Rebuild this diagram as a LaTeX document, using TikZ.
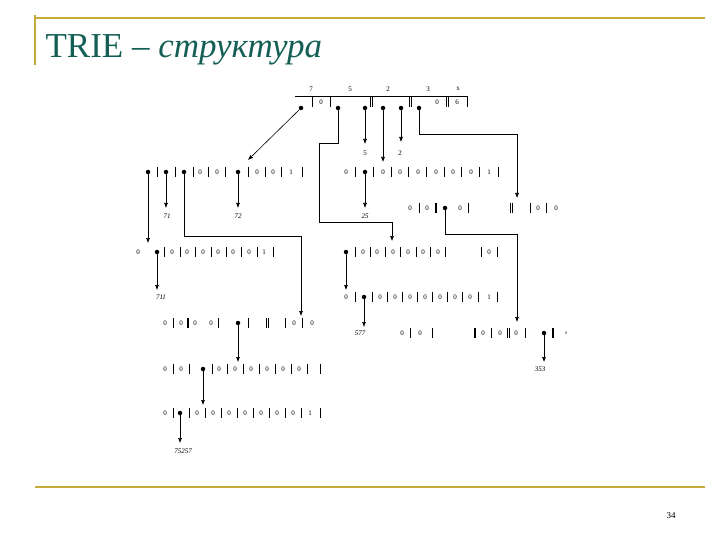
\documentclass[tikz,border=0pt]{standalone}
\usepackage{fontspec}
\setmainfont{Liberation Serif}
\usetikzlibrary{arrows.meta}
\definecolor{tealc}{RGB}{20,95,85}
\definecolor{lineo}{RGB}{200,170,60}
\begin{document}
\begin{tikzpicture}[x=1pt,y=-1pt,
 zc/.style={inner sep=0,font=\fontsize{7}{7}\selectfont},
 zi/.style={inner sep=0,font=\fontsize{7}{7}\selectfont\itshape},
 dot/.style={circle,fill=black,inner sep=0,minimum size=4.5pt},
 arr/.style={-{Latex[length=5pt,width=4pt]},line width=0.6pt},
 bar/.style={line width=0.6pt}]
\useasboundingbox (0,0) rectangle (720,540);
% frame
\draw[lineo,line width=1.2pt] (35,18) -- (705,18);
\draw[lineo,line width=1.2pt] (35,487) -- (705,487);
\draw[lineo,line width=1.2pt] (35,15) -- (35,65);
\node[anchor=west,text=tealc,font=\fontsize{35}{35}\selectfont] (title) at (42,50) {TRIE – \textit{структура}};
\node[font=\fontsize{9}{9}\selectfont] (pg) at (671,516) {34};
% macros
\newcommand{\zeros}[2]{\foreach \x in {#2} \node[zc] at (\x,#1) {0};}
\newcommand{\bars}[2]{\foreach \x in {#2} \draw[bar] (\x,#1-5) -- (\x,#1+5);}
\newcommand{\tbars}[2]{\foreach \x in {#2} \draw[line width=1.6pt] (\x,#1-5) -- (\x,#1+5);}
% top row
\draw[bar] (295,96) -- (468,96);
\foreach \x/\t in {311/7,350/5,388/2,428/3,458/x} \node[zc] at (\x,89) {\t};
\bars{102}{312,330,370,372,409,411,446,448,467}
\zeros{102}{321,437}
\node[zc] at (457,102) {6};
\node[dot] (t1) at (301,108) {};
\node[dot] (t2) at (338,108) {};
\node[dot] (t3) at (365,108) {};
\node[dot] (t4) at (383,108) {};
\node[dot] (t5) at (401,108) {};
\node[dot] (t6) at (419,108) {};
\coordinate (a1) at (248,160);
\draw[arr] (t1) -- (a1);
\draw[arr] (t2) |- (319,143) |- (392,222) -- (392,241);
\draw[arr] (t3) -- (365,144); \node[zc] at (365,153) {5};
\draw[arr] (t4) -- (383,162);
\draw[arr] (t5) -- (401,142); \node[zc] at (400,153) {2};
\draw[arr] (t6) |- (517,134) -- (517,198);
% row2 left y=172
\bars{172}{157,175,193,208,225,248,265,281,302}
\zeros{172}{200,217,257,273}
\node[zc] at (291,172) {1};
\node[dot] (l1) at (148,172) {};
\node[dot] (l2) at (166,172) {};
\node[dot] (l3) at (184,172) {};
\node[dot] (l4) at (238,172) {};
\draw[arr] (l2) -- (166,208); \node[zi] at (167,216) {71};
\draw[arr] (l4) -- (238,208); \node[zi] at (238,216) {72};
\draw[arr] (l1) -- (148,243);
\draw[arr] (l3) |- (301,236) -- (301,316);
% row2 right
\zeros{172}{346,383,400,418,436,453,471}
\bars{172}{355,373,391,408,426,444,461,479,498}
\node[zc] at (489,172) {1};
\node[dot] (r1) at (365,172) {};
\draw[arr] (r1) -- (365,208); \node[zi] at (365,216) {25};
% mid row y=208
\zeros{208}{410,427,460,538,556}
\bars{208}{419,468,510,512,530,546}
\tbars{208}{436}
\node[dot] (m1) at (445,208) {};
\draw[arr] (m1) |- (517,234) -- (517,322);
% row3 left y=252
\zeros{252}{138,172,187,203,218,233,249}
\bars{252}{164,180,195,211,226,241,257,273}
\node[zc] at (264,252) {1};
\node[dot] (q1) at (157,252) {};
\draw[arr] (q1) -- (157,290); \node[zi] at (161,297) {711};
% row3 right
\zeros{252}{363,377,393,408,423,438,489}
\bars{252}{355,370,385,400,416,430,445,481,497}
\node[dot] (p1) at (346,252) {};
\draw[arr] (p1) -- (346,290);
% row4 right y=297
\zeros{297}{346,380,395,410,425,440,455,470}
\bars{297}{355,372,387,402,417,432,447,462,478,497}
\node[zc] at (489,297) {1};
\node[dot] (s1) at (364,297) {};
\draw[arr] (s1) -- (364,327); \node[zi] at (360,333) {577};
% row5 y=323
\zeros{323}{165,181,195,211,294,312}
\bars{323}{173,218,248,266,268,285,302}
\tbars{323}{188}
\node[dot] (f1) at (238,323) {};
\draw[arr] (f1) -- (238,362);
\zeros{333}{402,420}
\bars{333}{410,432,491,525}
\tbars{333}{475,553}
\bars{333}{507,509}
\zeros{333}{483,500,516}
\node[inner sep=0,font=\fontsize{4}{4}\selectfont] at (566,333) {0};
\node[dot] (g1) at (544,333) {};
\draw[arr] (g1) -- (544,362); \node[zi] at (540,369) {353};
% row6 y=369
\zeros{369}{165,181,219,235,251,267,283,299}
\bars{369}{173,189,212,227,243,259,275,291,307,320}
\node[dot] (h1) at (203,369) {};
\draw[arr] (h1) -- (203,405);
% row7 y=413
\zeros{413}{165,197,213,229,245,261,277,293}
\bars{413}{173,189,205,221,237,253,269,285,301,320}
\node[zc] at (310,413) {1};
\node[dot] (k1) at (180,413) {};
\draw[arr] (k1) -- (180,443); \node[zi] at (183,451) {75257};
\end{tikzpicture}
\end{document}
